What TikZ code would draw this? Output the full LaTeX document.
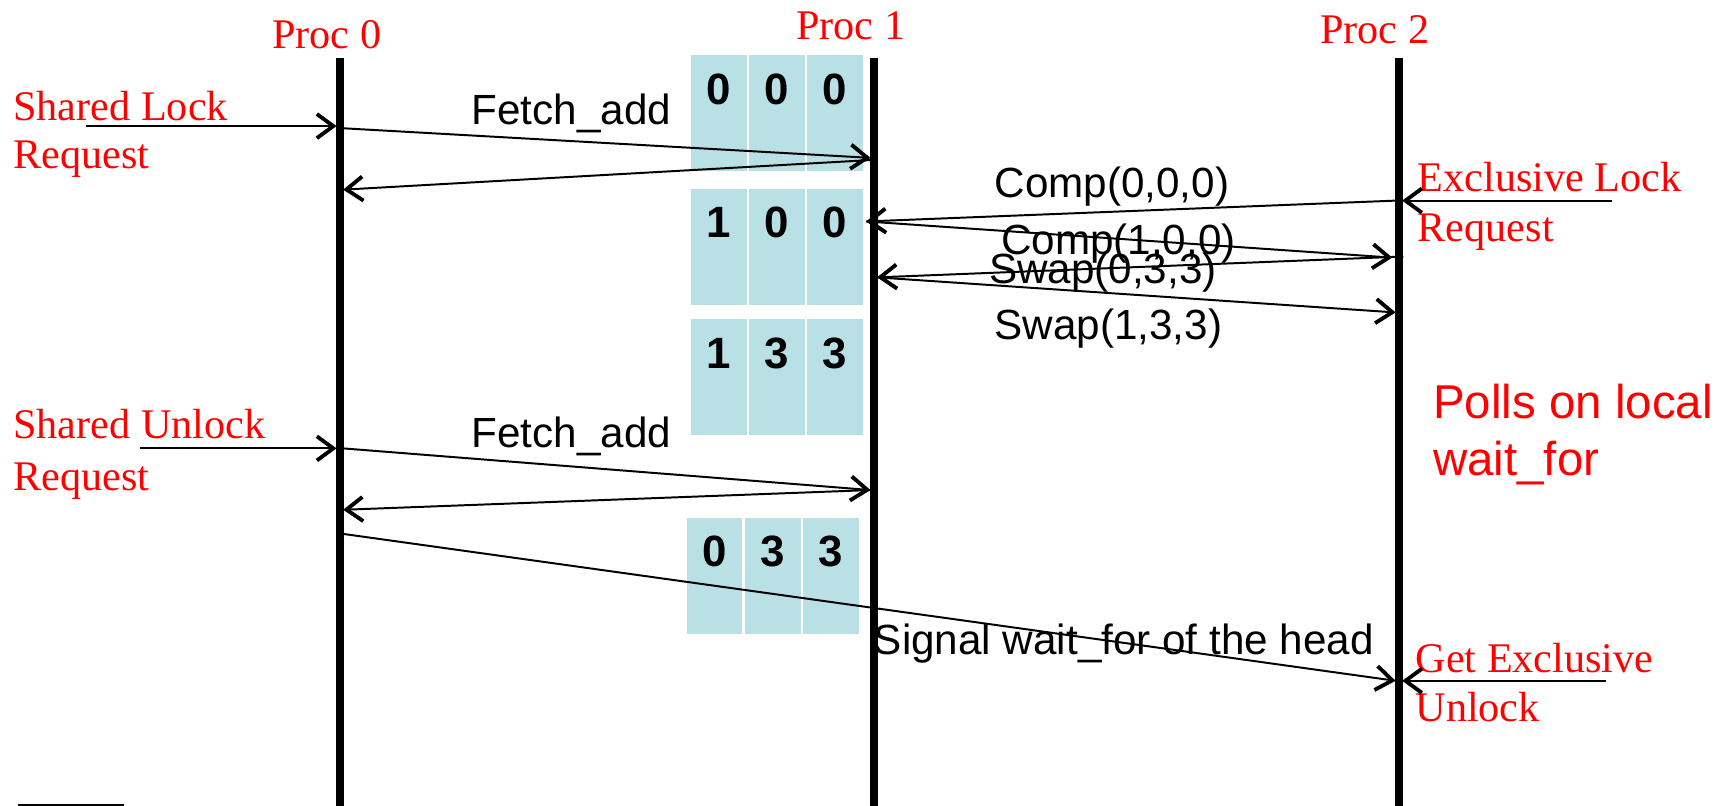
\documentclass[tikz,border=0pt]{standalone}
\usepackage{fontspec}
\setmainfont{Liberation Serif}
\setsansfont{Liberation Sans}
\usetikzlibrary{arrows.meta}
\definecolor{cellblue}{RGB}{185,224,228}
\definecolor{labred}{RGB}{255,0,0}
\begin{document}
\begin{tikzpicture}[x=1pt,y=-1pt,
  lifeline/.style={line width=7pt},
  msg/.style={line width=1.8pt,-{Straight Barb[length=15pt,width=22pt,line width=3.5pt]}},
  redserif/.style={text=labred,font=\fontsize{38.5}{46}\selectfont,inner sep=0pt,anchor=base west},
  redsans/.style={text=labred,font=\sffamily\fontsize{43.3}{52}\selectfont,inner sep=0pt,anchor=base west},
  msglabel/.style={font=\sffamily\fontsize{38.5}{46}\selectfont,inner sep=0pt,anchor=base west},
  proclabel/.style={text=labred,font=\fontsize{38.5}{46}\selectfont,inner sep=0pt,anchor=base},
  cell/.style={fill=cellblue,draw=none,minimum width=51pt,minimum height=106pt,inner sep=0pt,anchor=north west},
  digit/.style={font=\sffamily\bfseries\fontsize{40}{48}\selectfont,inner sep=0pt,anchor=base}
]
\useasboundingbox (0,0) rectangle (1568,735);

% process lifelines
\coordinate (l0t) at (310,53);  \coordinate (l0b) at (310,745);
\coordinate (l1t) at (797,53);  \coordinate (l1b) at (797,745);
\coordinate (l2t) at (1276,53); \coordinate (l2b) at (1276,745);

% lock word cells held by Proc 1
\foreach \row/\x/\y/\a/\b/\c in {r1/630/50/0/0/0, r2/630/172/1/0/0, r3/630/291/1/3/3, r4/626/472/0/3/3}{
  \node[cell] (\row c1) at (\x,\y) {};
  \node[cell] (\row c2) at (\x+53,\y) {};
  \node[cell] (\row c3) at (\x+106,\y) {};
  \node[digit] (\row d1) at ([yshift=-45pt]\row c1.north) {\a};
  \node[digit] (\row d2) at ([yshift=-45pt]\row c2.north) {\b};
  \node[digit] (\row d3) at ([yshift=-45pt]\row c3.north) {\c};
}

\draw[lifeline] (l0t) -- (l0b);
\draw[lifeline] (l1t) -- (l1b);
\draw[lifeline] (l2t) -- (l2b);

\node[proclabel] (proc0) at (298,44) {Proc 0};
\node[proclabel] (proc1) at (776,36) {Proc 1};
\node[proclabel] (proc2) at (1254,40) {Proc 2};

% shared lock
\node[redserif] (slock) at (12,110) {Shared Lock};
\node[redserif] (sreq) at (12,154) {Request};
\coordinate (s0) at (78,115);
\coordinate (a1) at (307,115);
\coordinate (a2) at (313,117);
\coordinate (b1) at (794,144);
\coordinate (b2) at (794,146);
\coordinate (a3) at (313,173);
\draw[msg] (s0) -- (a1);
\draw[msg] (a2) -- (b1);
\draw[msg] (b2) -- (a3);
\node[msglabel] (fa1) at (430,114) {Fetch\_add};

% exclusive lock
\node[redserif] (xlock) at (1293,175) {Exclusive Lock};
\node[redserif] (xreq) at (1293,220) {Request};
\coordinate (x0) at (1470,183);
\coordinate (c1) at (1279,183);
\coordinate (c2) at (1273,183);
\coordinate (b3) at (790,202);
\coordinate (c3) at (1270,235);
\coordinate (c4) at (1280,234);
\coordinate (b4) at (800,253);
\coordinate (c5) at (1273,285);
\draw[msg] (x0) -- (c1);
\draw[msg] (c2) -- (b3);
\draw[msg] (b3) -- (c3);
\draw[msg] (c4) -- (b4);
\draw[msg] (b4) -- (c5);
\node[msglabel] (cp0) at (907,180) {Comp(0,0,0)};
\node[msglabel] (cp1) at (913,232) {Comp(1,0,0)};
\node[msglabel] (sw0) at (902,259) {Swap(0,3,3)};
\node[msglabel] (sw1) at (907,310) {Swap(1,3,3)};

\node[redsans] (poll1) at (1307,382) {Polls on local};
\node[redsans] (poll2) at (1307,434) {wait\_for};

% shared unlock
\node[redserif] (sunl) at (12,400) {Shared Unlock};
\node[redserif] (sureq) at (12,447) {Request};
\coordinate (u0) at (128,409);
\coordinate (a4) at (307,409);
\coordinate (a5) at (313,409);
\coordinate (b5) at (794,447);
\coordinate (a6) at (313,465);
\draw[msg] (u0) -- (a4);
\draw[msg] (a5) -- (b5);
\draw[msg] (b5) -- (a6);
\node[msglabel] (fa2) at (430,408) {Fetch\_add};

% hand-over to the exclusive waiter
\coordinate (a7) at (313,487);
\coordinate (c6) at (1273,621);
\draw[msg] (a7) -- (c6);
\node[msglabel] (sig) at (797,597) {Signal wait\_for of the head};
\node[redserif] (gex) at (1291,613) {Get Exclusive};
\node[redserif] (gunl) at (1291,658) {Unlock};
\coordinate (g0) at (1465,621);
\coordinate (c7) at (1279,621);
\draw[msg] (g0) -- (c7);

% box at the lower edge
\node[draw,line width=2pt,minimum width=95pt,minimum height=30pt,anchor=north west] (foot) at (16,733) {};
\end{tikzpicture}
\end{document}
